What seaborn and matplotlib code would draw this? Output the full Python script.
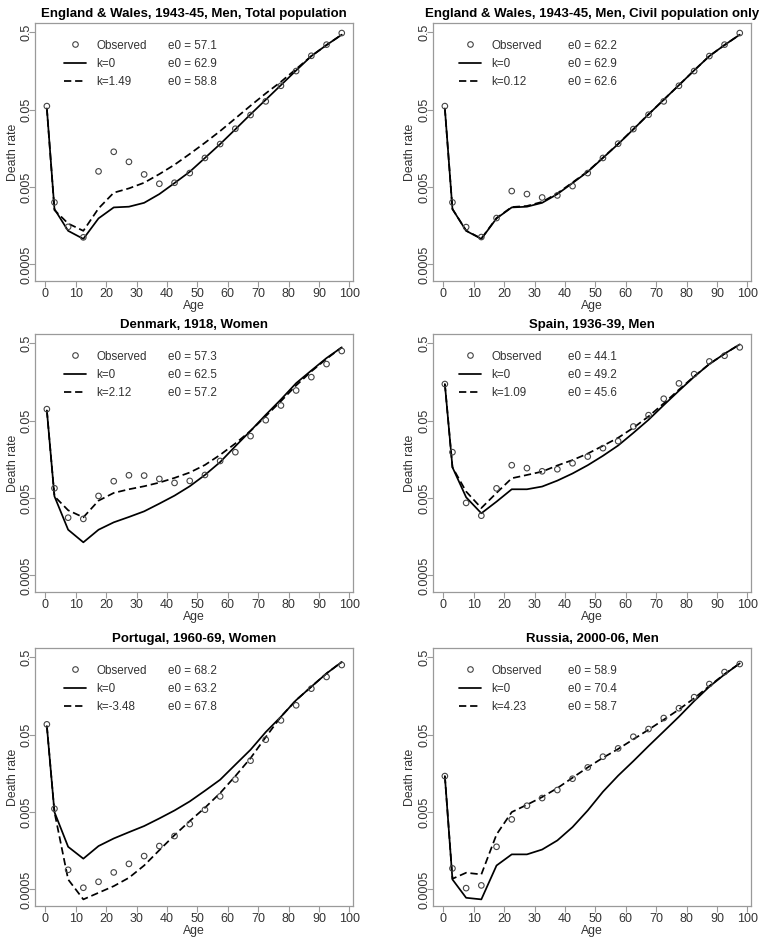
import numpy as np
import pandas as pd
import matplotlib
matplotlib.use("Agg")
import matplotlib.pyplot as plt
from matplotlib.lines import Line2D
import seaborn as sns

sns.set_style("white")
plt.rcParams['font.family'] = ['Liberation Sans', 'DejaVu Sans']

ages = [0.5, 3, 7.5, 12.5, 17.5, 22.5, 27.5, 32.5, 37.5, 42.5, 47.5,
        52.5, 57.5, 62.5, 67.5, 72.5, 77.5, 82.5, 87.5, 92.5, 97.5]

titles = ["England & Wales, 1943-45, Men, Total population",
          "England & Wales, 1943-45, Men, Civil population only",
          "Denmark, 1918, Women",
          "Spain, 1936-39, Men",
          "Portugal, 1960-69, Women",
          "Russia, 2000-06, Men"]

k_values = ["1.49", "0.12", "2.12", "1.09", "-3.48", "4.23"]
e0_observed = ["57.1", "62.2", "57.3", "44.1", "68.2", "58.9"]
e0_k0 = ["62.9", "62.9", "62.5", "49.2", "63.2", "70.4"]
e0_fit = ["58.8", "62.6", "57.2", "45.6", "67.8", "58.7"]

# England & Wales, total population
ew_total_obs = [0.0557, 0.00317, 0.00153, 0.00112, 0.00798, 0.0143, 0.0106, 0.00729, 0.00552, 0.00569, 0.00759,
                0.0119, 0.0180, 0.0284, 0.0427, 0.0641, 0.102, 0.158, 0.249, 0.347, 0.490]
ew_k0 = [0.0520, 0.00260, 0.00136, 0.00107, 0.00197, 0.00273, 0.00279, 0.00313, 0.00406, 0.00564, 0.00789,
         0.0119, 0.0180, 0.0279, 0.0436, 0.0673, 0.104, 0.161, 0.247, 0.343, 0.467]
ew_total_fit = [0.0520, 0.00252, 0.00169, 0.00136, 0.00265, 0.00423, 0.00481, 0.00569, 0.00736, 0.00973, 0.0134,
                0.0187, 0.0265, 0.0386, 0.0564, 0.0813, 0.115, 0.168, 0.247, 0.343, 0.467]
# England & Wales, civil population
ew_civil_obs = [0.0557, 0.00317, 0.00152, 0.00113, 0.00199, 0.00444, 0.00406, 0.00367, 0.00390, 0.00515, 0.00759,
                0.0119, 0.0182, 0.0281, 0.0431, 0.0641, 0.102, 0.158, 0.247, 0.347, 0.490]
ew_civil_fit = [0.0520, 0.00260, 0.00137, 0.00108, 0.00199, 0.00276, 0.00285, 0.00322, 0.00415, 0.00574, 0.00798,
                0.0120, 0.0181, 0.0280, 0.0437, 0.0674, 0.104, 0.161, 0.247, 0.343, 0.467]
# Denmark
dk_obs = [0.0706, 0.00670, 0.00279, 0.00269, 0.00533, 0.00826, 0.00986, 0.00977, 0.00885, 0.00785, 0.00834,
          0.00995, 0.0151, 0.0196, 0.0316, 0.0508, 0.0787, 0.123, 0.183, 0.270, 0.398]
dk_k0 = [0.0679, 0.00527, 0.00195, 0.00134, 0.00195, 0.00243, 0.00285, 0.00337, 0.00424, 0.00538, 0.00711,
         0.00995, 0.0146, 0.0234, 0.0370, 0.0596, 0.0942, 0.153, 0.223, 0.323, 0.444]
dk_fit = [0.0679, 0.00527, 0.00348, 0.00282, 0.00463, 0.00583, 0.00650, 0.00711, 0.00793, 0.00912, 0.0107,
          0.0134, 0.0181, 0.0254, 0.0370, 0.0573, 0.0895, 0.143, 0.217, 0.316, 0.444]
# Spain
es_obs = [0.149, 0.0196, 0.00433, 0.00296, 0.00668, 0.0133, 0.0122, 0.0111, 0.0118, 0.0141, 0.0172,
          0.0221, 0.0272, 0.0421, 0.0590, 0.0962, 0.152, 0.200, 0.292, 0.346, 0.444]
es_k0 = [0.149, 0.0125, 0.00512, 0.00318, 0.00450, 0.00650, 0.00650, 0.00705, 0.00841, 0.0104, 0.0133,
         0.0176, 0.0239, 0.0348, 0.0514, 0.0796, 0.122, 0.185, 0.270, 0.367, 0.485]
es_fit = [0.149, 0.0125, 0.00607, 0.00372, 0.00583, 0.00902, 0.00995, 0.0110, 0.0132, 0.0155, 0.0188,
          0.0237, 0.0301, 0.0405, 0.0568, 0.0838, 0.126, 0.187, 0.270, 0.367, 0.485]
# Portugal
pt_obs = [0.0681, 0.00552, 0.000897, 0.000526, 0.000628, 0.000830, 0.00107, 0.00135, 0.00182, 0.00245, 0.00350,
          0.00536, 0.00798, 0.0132, 0.0231, 0.0431, 0.0766, 0.120, 0.197, 0.279, 0.398]
pt_k0 = [0.0647, 0.00500, 0.00178, 0.00125, 0.00182, 0.00228, 0.00275, 0.00330, 0.00414, 0.00525, 0.00687,
         0.00944, 0.0131, 0.0205, 0.0320, 0.0541, 0.0855, 0.140, 0.209, 0.310, 0.436]
pt_fit = [0.0647, 0.00500, 0.000673, 0.000372, 0.000453, 0.000552, 0.000708, 0.00102, 0.00161, 0.00252, 0.00383,
          0.00569, 0.00881, 0.0146, 0.0249, 0.0466, 0.0855, 0.140, 0.209, 0.310, 0.436]
# Russia
ru_obs = [0.0146, 0.000935, 0.000520, 0.000564, 0.00178, 0.00402, 0.00604, 0.00759, 0.00964, 0.0135, 0.0189,
          0.0260, 0.0333, 0.0471, 0.0592, 0.0822, 0.110, 0.153, 0.226, 0.323, 0.410]
ru_k0 = [0.0146, 0.000673, 0.000390, 0.000372, 0.00102, 0.00142, 0.00142, 0.00164, 0.00215, 0.00320, 0.00525,
         0.00916, 0.0148, 0.0228, 0.0357, 0.0552, 0.0855, 0.136, 0.209, 0.301, 0.418]
ru_fit = [0.0146, 0.000687, 0.000822, 0.000782, 0.00257, 0.00500, 0.00622, 0.00782, 0.0102, 0.0139, 0.0189,
          0.0252, 0.0327, 0.0436, 0.0581, 0.0782, 0.106, 0.148, 0.213, 0.304, 0.418]

observed = [ew_total_obs, ew_civil_obs, dk_obs, es_obs, pt_obs, ru_obs]
model_k0 = [ew_k0, ew_k0, dk_k0, es_k0, pt_k0, ru_k0]
model_fit = [ew_total_fit, ew_civil_fit, dk_fit, es_fit, pt_fit, ru_fit]

y_ticks = [0.0005, 0.005, 0.05, 0.5]
y_tick_labels = ["0.0005", "0.005", "0.05", "0.5"]
x_ticks = [0, 10, 20, 30, 40, 50, 60, 70, 80, 90, 100]

W, H = 764, 941
fig = plt.figure(figsize=(W / 100, H / 100), dpi=100)

col_left = [35, 433]
ax_w = 318
row_top = [23, 334, 648]
ax_h = 258

txt_col = "#333333"
spine_col = "#9a9a9a"
lw = 1.25
dash = (4.2, 2.2)

for i in range(6):
    r, c = divmod(i, 2)
    left = col_left[c] / W
    bottom = 1 - (row_top[r] + ax_h) / H
    ax = fig.add_axes([left, bottom, ax_w / W, ax_h / H])

    lines_df = pd.DataFrame({
        "age": ages * 2,
        "rate": model_k0[i] + model_fit[i],
        "model": ["k0"] * len(ages) + ["fit"] * len(ages),
    })
    sns.lineplot(data=lines_df, x="age", y="rate", style="model",
                 dashes={"k0": "", "fit": dash}, color="black", linewidth=lw,
                 estimator=None, sort=False, legend=False, ax=ax)
    obs_df = pd.DataFrame({"age": ages, "rate": observed[i]})
    sns.scatterplot(data=obs_df, x="age", y="rate", marker="o", s=16,
                    facecolor="none", edgecolor="#444444", linewidth=0.8,
                    legend=False, ax=ax, zorder=3)

    ax.set_yscale("log")
    ax.set_ylim(10 ** -3.515, 10 ** -0.18)
    ax.set_xlim(-3.4, 101.2)
    ax.set_yticks(y_ticks)
    ax.yaxis.set_minor_locator(matplotlib.ticker.NullLocator())
    ax.set_yticklabels(y_tick_labels, rotation=90, va="center")
    ax.set_xticks(x_ticks)
    ax.set_xticklabels([str(v) for v in x_ticks])
    ax.tick_params(axis="both", which="major", direction="out", length=4,
                   width=0.8, color=spine_col, labelsize=9, labelcolor=txt_col,
                   left=True, bottom=True)
    ax.tick_params(axis="x", pad=0.8)
    ax.tick_params(axis="y", pad=-2)
    for sp in ax.spines.values():
        sp.set_color(spine_col)
        sp.set_linewidth(0.9)
    ax.set_xlabel("Age", fontsize=8.8, color=txt_col, labelpad=0)
    ax.set_ylabel("Death rate", fontsize=8.8, color=txt_col)
    ax.yaxis.set_label_coords(-0.049 if c == 0 else -0.053, 0.5)
    ax.set_title(titles[i], fontsize=9.5, fontweight="bold", color="black", pad=4)

    handles = [
        Line2D([], [], linestyle="none", marker="o", markersize=4,
               markerfacecolor="none", markeredgecolor="#444444", markeredgewidth=0.8),
        Line2D([], [], color="black", linewidth=lw),
        Line2D([], [], color="black", linewidth=lw, dashes=dash),
    ]
    labels = ["Observed", "k=0", "k=" + k_values[i]]
    hx = 0.091 if c == 0 else 0.083
    ex = 0.417 if c == 0 else 0.426
    leg1 = ax.legend(handles, labels, loc="upper left", bbox_to_anchor=(hx, 0.936),
                     frameon=False, fontsize=8.4, handlelength=1.85, handletextpad=0.9,
                     labelspacing=0.55, borderpad=0, borderaxespad=0,
                     labelcolor=txt_col)
    ax.add_artist(leg1)
    blank = [Line2D([], [], linestyle="none") for _ in range(3)]
    e0_labels = ["e0 = " + e0_observed[i], "e0 = " + e0_k0[i], "e0 = " + e0_fit[i]]
    ax.legend(blank, e0_labels, loc="upper left", bbox_to_anchor=(ex, 0.936),
              frameon=False, fontsize=8.4, handlelength=0, handletextpad=0,
              labelspacing=0.55, borderpad=0, borderaxespad=0, labelcolor=txt_col)

fig.savefig("out.png", dpi=100)
